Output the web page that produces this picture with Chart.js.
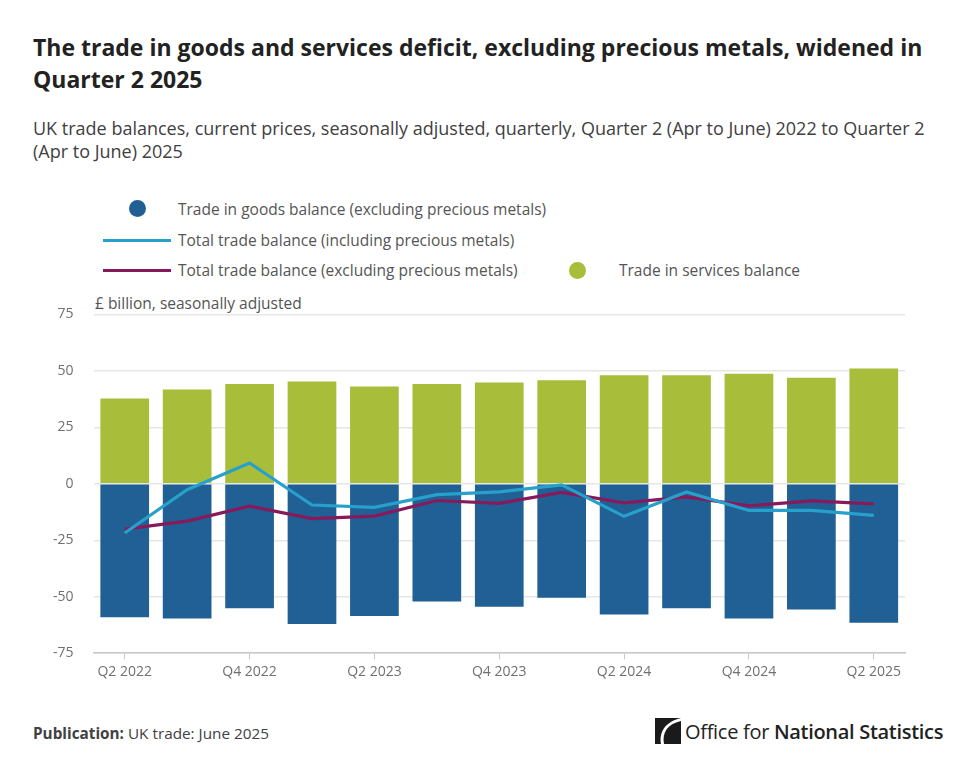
<!DOCTYPE html>
<html>
<head>
<meta charset="utf-8">
<script src="https://cdn.jsdelivr.net/npm/chart.js@4.4.1/dist/chart.umd.min.js"></script>
<style>
  body { margin: 0; background: #fff; font-family: 'Open Sans', sans-serif; }
  #page { position: relative; width: 980px; height: 770px; overflow: hidden; }
  .title { position: absolute; left: 33px; top: 31px; width: 905px; font-size: 23px; font-weight: 700; color: #222; line-height: 32px; }
  .subtitle { position: absolute; left: 33px; top: 117px; width: 910px; font-size: 18px; color: #414042; line-height: 23px; }
  .leg { position: absolute; font-size: 15.5px; color: #555; line-height: 20px; white-space: nowrap; }
  .dot { position: absolute; width: 17px; height: 17px; border-radius: 50%; }
  .ln { position: absolute; height: 3px; }
  .unit { position: absolute; left: 95px; top: 292px; font-size: 15.5px; color: #555; }
  #wrap { position: absolute; left: 30px; top: 286px; width: 890px; height: 398px; }
  .pub { position: absolute; left: 33px; top: 723px; font-size: 15.3px; color: #414042; }
  .ons { position: absolute; left: 655px; top: 718px; font-size: 20px; color: #222; white-space: nowrap; letter-spacing: -0.3px; }
</style>
</head>
<body>
<div id="page">
  <div class="title">The trade in goods and services deficit, excluding precious metals, widened in Quarter 2 2025</div>
  <div class="subtitle">UK trade balances, current prices, seasonally adjusted, quarterly, Quarter 2 (Apr to June) 2022 to Quarter 2 (Apr to June) 2025</div>

  <div class="dot" style="left:129px; top:200px; background:#206095;"></div>
  <div class="leg" style="left:178px; top:199px;">Trade in goods balance (excluding precious metals)</div>
  <div class="ln" style="left:103px; top:239px; width:68px; background:#27a0cc;"></div>
  <div class="leg" style="left:178px; top:230px;">Total trade balance (including precious metals)</div>
  <div class="ln" style="left:103px; top:269px; width:68px; background:#871a5b;"></div>
  <div class="leg" style="left:178px; top:260px;">Total trade balance (excluding precious metals)</div>
  <div class="dot" style="left:569px; top:262px; background:#a8bd3a;"></div>
  <div class="leg" style="left:619px; top:260px;">Trade in services balance</div>
  <div class="unit">£ billion, seasonally adjusted</div>

  <div id="wrap"><canvas id="tradeChart"></canvas></div>

  <div class="pub"><b>Publication:</b> UK trade: June 2025</div>
  <div class="ons">
    <svg width="26" height="26" viewBox="0 0 26 26" style="vertical-align:-5px; margin-right:4px;">
      <rect x="0" y="0" width="26" height="26" fill="#1a1a1a"/>
      <path d="M26 0 C10 4 4 14 6 26 L9 26 C7 15 12 6 26 3 Z" fill="#fff"/>
    </svg>Office for <b style="font-weight:600">National Statistics</b>
  </div>
</div>

<script>
// Datos del gráfico (miles de millones de libras)
const quarters = ['Q2 2022', 'Q3 2022', 'Q4 2022', 'Q1 2023', 'Q2 2023', 'Q3 2023', 'Q4 2023',
  'Q1 2024', 'Q2 2024', 'Q3 2024', 'Q4 2024', 'Q1 2025', 'Q2 2025'];
const goodsBalance = [-59.1, -59.6, -55.1, -62.1, -58.5, -52.1, -54.4, -50.4, -57.9, -55.1, -59.6, -55.6, -61.5];
const servicesBalance = [37.8, 41.8, 44.2, 45.3, 43.1, 44.2, 44.9, 45.8, 48.1, 48.1, 48.7, 47.0, 51.0];
const totalInclPrecious = [-21.8, -2.6, 9.2, -9.4, -10.4, -4.8, -3.6, -0.5, -14.4, -3.6, -11.8, -11.8, -14.0];
const totalExclPrecious = [-20.1, -16.5, -9.9, -15.4, -14.3, -7.4, -8.7, -3.8, -8.4, -5.8, -9.8, -7.6, -8.9];
const yTicks = [-75, -50, -25, 0, 25, 50, 75];

const COLORS = {
  goods: '#206095',
  services: '#a8bd3a',
  incl: '#27a0cc',
  excl: '#871a5b',
  text: '#707070',
  grid: '#e6e6e6',
  axis: '#c8c8c8'
};

const ctx = document.getElementById('tradeChart').getContext('2d');

new Chart(ctx, {
  type: 'bar',
  data: {
    labels: quarters,
    datasets: [
      {
        type: 'line',
        label: 'Total trade balance (including precious metals)',
        data: totalInclPrecious,
        borderColor: COLORS.incl,
        borderWidth: 3.2,
        pointRadius: 0,
        tension: 0,
        stack: 'incl',
        order: 0
      },
      {
        type: 'line',
        label: 'Total trade balance (excluding precious metals)',
        data: totalExclPrecious,
        borderColor: COLORS.excl,
        borderWidth: 3.2,
        pointRadius: 0,
        tension: 0,
        stack: 'excl',
        order: 0
      },
      {
        label: 'Trade in goods balance (excluding precious metals)',
        data: goodsBalance,
        backgroundColor: COLORS.goods,
        stack: 'bars',
        barPercentage: 0.78,
        categoryPercentage: 1,
        order: 1
      },
      {
        label: 'Trade in services balance',
        data: servicesBalance,
        backgroundColor: COLORS.services,
        stack: 'bars',
        barPercentage: 0.78,
        categoryPercentage: 1,
        order: 1
      }
    ]
  },
  options: {
    responsive: true,
    maintainAspectRatio: false,
    animation: false,
    layout: { padding: { left: 3, right: 15, top: 6, bottom: 0 } },
    plugins: {
      legend: { display: false },
      tooltip: { enabled: false }
    },
    scales: {
      x: {
        stacked: true,
        grid: { drawOnChartArea: false, offset: false, color: COLORS.axis, tickLength: 6 },
        border: { color: COLORS.axis, width: 1.5 },
        ticks: {
          color: COLORS.text,
          font: { family: 'Open Sans', size: 14 },
          maxRotation: 0,
          autoSkip: false,
          padding: 4,
          callback: function (value, index) {
            return index % 2 === 0 ? quarters[index] : null;
          }
        }
      },
      y: {
        stacked: true,
        min: -75,
        max: 75,
        afterBuildTicks: axis => { axis.ticks = yTicks.map(v => ({ value: v })); },
        grid: { color: COLORS.grid, drawTicks: false, lineWidth: 1.5 },
        border: { display: false },
        ticks: {
          color: COLORS.text,
          font: { family: 'Open Sans', size: 14 },
          padding: 20
        }
      }
    }
  }
});
</script>
</body>
</html>
